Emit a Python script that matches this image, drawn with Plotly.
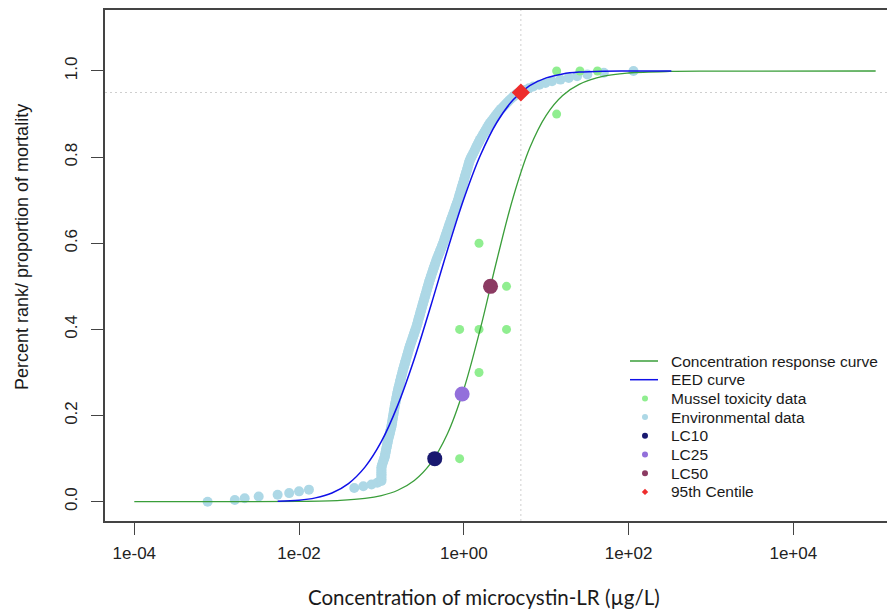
import plotly.graph_objects as go
import pandas as pd

# ---------------- data ----------------
# Environmental microcystin-LR concentrations (log10 ug/L), sorted
env_log10 = [
    -3.11, -2.78, -2.66, -2.49, -2.26, -2.12, -2.00, -1.88, -1.33, -1.22, -1.12, -1.05,
    -1.00, -1.00, -1.00, -1.00, -1.00, -1.00, -1.00, -1.00, -1.00,
    -0.995, -0.988, -0.981, -0.974, -0.967,
    -0.960, -0.956, -0.952, -0.948, -0.944, -0.940, -0.935, -0.931, -0.927, -0.923,
    -0.919, -0.913, -0.908, -0.902, -0.897, -0.892, -0.887, -0.882,
    -0.877, -0.874, -0.870, -0.867, -0.864, -0.860, -0.857, -0.853, -0.850, -0.847, -0.843, -0.840,
    -0.836, -0.832, -0.827, -0.823, -0.819, -0.815, -0.811, -0.806, -0.802,
    -0.798, -0.793, -0.787, -0.782, -0.777, -0.773, -0.767, -0.762, -0.757, -0.751, -0.746, -0.741,
    -0.735, -0.729, -0.723, -0.717, -0.711, -0.705, -0.699, -0.693, -0.687, -0.681, -0.675, -0.669, -0.663,
    -0.657, -0.650, -0.643, -0.636, -0.628, -0.621, -0.614, -0.607, -0.600, -0.593, -0.586, -0.579,
    -0.572, -0.566, -0.560, -0.555, -0.549, -0.543, -0.537, -0.531, -0.526, -0.520, -0.514, -0.508, -0.502, -0.496,
    -0.490, -0.484, -0.478, -0.472, -0.466, -0.460, -0.454, -0.448, -0.442, -0.436, -0.430, -0.424, -0.418,
    -0.411, -0.404, -0.397, -0.390, -0.383, -0.376, -0.369, -0.362, -0.355, -0.348, -0.341, -0.334,
    -0.326, -0.317, -0.309, -0.301, -0.292, -0.284, -0.276, -0.268, -0.259,
    -0.251, -0.244, -0.237, -0.230, -0.223, -0.216, -0.209, -0.202, -0.195, -0.188, -0.181, -0.174,
    -0.166, -0.159, -0.151, -0.144, -0.137, -0.129, -0.122, -0.114, -0.107, -0.100, -0.092, -0.085, -0.077, -0.070,
    -0.064, -0.058, -0.052, -0.045, -0.039, -0.033, -0.027, -0.021, -0.015, -0.008, -0.002, 0.004, 0.010,
    0.016, 0.022, 0.028, 0.035, 0.041, 0.047, 0.053, 0.059, 0.065, 0.071,
    0.081, 0.091, 0.102, 0.112, 0.123, 0.133, 0.143, 0.153, 0.164, 0.174, 0.185,
    0.195, 0.207, 0.220, 0.232, 0.245, 0.257, 0.269, 0.282, 0.294, 0.307,
    0.320, 0.336, 0.353, 0.369, 0.385, 0.401, 0.418, 0.434,
    0.453, 0.473, 0.493, 0.513, 0.534, 0.554,
    0.577, 0.601, 0.624, 0.648,
    0.686, 0.738, 0.791,
    0.843, 0.917, 0.991,
    1.071, 1.173,
    1.274, 1.375,
    1.50, 1.70, 2.06,
]

# Mussel toxicity data: concentration (ug/L) and proportion of mortality
mussel_conc = [0.89, 0.89, 1.53, 1.53, 1.53, 3.3, 3.3, 13.4, 13.4, 25.7, 41.9]
mussel_mort = [0.1, 0.4, 0.3, 0.4, 0.6, 0.4, 0.5, 0.9, 1.0, 1.0, 1.0]

# Concentration response curve (fitted)
crc_conc = [1e-4, 1e-3, 0.01, 0.0316, 0.0631, 0.1, 0.158, 0.251, 0.398, 0.631, 1.0,
            1.585, 2.512, 3.981, 6.31, 10.0, 15.85, 25.12, 50.1, 100.0, 316.0, 1000.0, 1e5]
crc_prop = [0.0, 0.00002, 0.0006, 0.0029, 0.0075, 0.0142, 0.0266, 0.0493, 0.0895, 0.157, 0.261,
            0.401, 0.560, 0.707, 0.821, 0.897, 0.943, 0.969, 0.988, 0.9953, 0.999, 0.9998, 1.0]

# EED curve (fitted)
eed_conc = [0.0055, 0.01, 0.0158, 0.0251, 0.0398, 0.0631, 0.1, 0.158, 0.251, 0.398, 0.631,
            1.0, 1.585, 2.512, 3.981, 6.31, 10.0, 15.85, 25.12, 50.1, 100.0, 331.0]
eed_prop = [0.001, 0.0035, 0.0089, 0.0203, 0.0422, 0.0803, 0.1399, 0.2242, 0.3318, 0.4550, 0.5832,
            0.7027, 0.8037, 0.8804, 0.9332, 0.9658, 0.9840, 0.9932, 0.9974, 0.9995, 0.9999, 1.0]

# Lethal concentrations
lc_names = ["LC10", "LC25", "LC50"]
lc_conc = [0.444, 0.955, 2.11]
lc_prop = [0.10, 0.25, 0.50]

# 95th centile of the environmental exposure distribution
c95_conc = 4.93
c95_prop = 0.95

x_tickvals = [1e-4, 1e-2, 1e0, 1e2, 1e4]
x_ticktext = ["1e-04", "1e-02", "1e+00", "1e+02", "1e+04"]
y_tickvals = [0.0, 0.2, 0.4, 0.6, 0.8, 1.0]
y_ticktext = ["0.0", "0.2", "0.4", "0.6", "0.8", "1.0"]

legend_labels = ["Concentration response curve", "EED curve", "Mussel toxicity data",
                 "Environmental data", "LC10", "LC25", "LC50", "95th Centile"]

# ---------------- styles ----------------
C_GREEN = "#3a9e3a"
C_BLUE = "#1010e8"
C_MUSSEL = "#90EE90"
C_ENV = "#ADD8E6"
C_LC = ["#191970", "#9370DB", "#8B3A62"]
C_RED = "#EE2C2C"
AXC = "#444444"
FONT = "Liberation Sans, Arial, sans-serif"

env_conc = [10 ** v for v in env_log10]
s = pd.Series(env_conc)
env_rank = ((s.rank(method="first") - 1) / (len(s) - 1)).tolist()

X_RANGE = [-4.3557, 5.2346]
Y_RANGE = [-0.0448, 1.1416]

fig = go.Figure()

# dotted reference lines at the 95th centile
fig.add_trace(go.Scatter(x=[c95_conc, c95_conc], y=Y_RANGE, mode="lines",
                         line=dict(color="#cfcfcf", width=1, dash="2px,3px"),
                         showlegend=False, hoverinfo="skip"))
fig.add_trace(go.Scatter(x=[10 ** X_RANGE[0], 10 ** X_RANGE[1]], y=[c95_prop, c95_prop], mode="lines",
                         line=dict(color="#cfcfcf", width=1, dash="2px,3px"),
                         showlegend=False, hoverinfo="skip"))

fig.add_trace(go.Scatter(x=env_conc, y=env_rank, mode="markers",
                         marker=dict(color=C_ENV, size=10, line=dict(width=0)),
                         name="Environmental data", showlegend=False))
fig.add_trace(go.Scatter(x=mussel_conc, y=mussel_mort, mode="markers",
                         marker=dict(color=C_MUSSEL, size=9, line=dict(width=0)),
                         name="Mussel toxicity data", showlegend=False))
fig.add_trace(go.Scatter(x=crc_conc, y=crc_prop, mode="lines",
                         line=dict(color=C_GREEN, width=1.3, shape="spline", smoothing=1.0),
                         name="Concentration response curve", showlegend=False))
fig.add_trace(go.Scatter(x=eed_conc, y=eed_prop, mode="lines",
                         line=dict(color=C_BLUE, width=1.5, shape="spline", smoothing=1.0),
                         name="EED curve", showlegend=False))
for nm, cx, cy, col in zip(lc_names, lc_conc, lc_prop, C_LC):
    fig.add_trace(go.Scatter(x=[cx], y=[cy], mode="markers",
                             marker=dict(color=col, size=15, line=dict(width=0)),
                             name=nm, showlegend=False))
fig.add_trace(go.Scatter(x=[c95_conc], y=[c95_prop], mode="markers",
                         marker=dict(color=C_RED, size=14, symbol="diamond", line=dict(width=0)),
                         name="95th Centile", showlegend=False))

# The page body has an 8px margin, so the figure is 8px smaller and all
# reference pixel positions below are given in figure coordinates (ref - 8).
W, H = 887, 602
ML, MR, MT, MB = 97, 0, 2, 89
PW, PH = W - ML - MR, H - MT - MB


def px(xp):
    return (xp - ML) / PW


def py(yp):
    return (H - MB - yp) / PH


annotations = []
shapes = []

# manual legend (matches the R legend spacing)
row0, step = 353.0, 18.7
sym_kinds = ["line", "line", "dot", "dot", "dot", "dot", "dot", "diamond"]
sym_cols = [C_GREEN, C_BLUE, C_MUSSEL, C_ENV] + C_LC + [C_RED]
for k, (lab, kind, col) in enumerate(zip(legend_labels, sym_kinds, sym_cols)):
    yy = row0 + k * step
    annotations.append(dict(x=px(661), y=py(yy), xref="paper", yref="paper", text=lab,
                            showarrow=False, xanchor="left", yanchor="middle",
                            font=dict(family=FONT, size=15.5, color="#1a1a1a")))
    if kind == "line":
        shapes.append(dict(type="line", xref="paper", yref="paper", x0=px(622), x1=px(650),
                           y0=py(yy), y1=py(yy), line=dict(color=col, width=1.5)))
    elif kind == "dot":
        shapes.append(dict(type="circle", xref="paper", yref="paper", xsizemode="pixel",
                           ysizemode="pixel", xanchor=px(637), yanchor=py(yy),
                           x0=-3, x1=3, y0=-3, y1=3, fillcolor=col, line=dict(width=0)))
    else:
        shapes.append(dict(type="path", xref="paper", yref="paper", xsizemode="pixel",
                           ysizemode="pixel", xanchor=px(637), yanchor=py(yy),
                           path="M0,3.2 L3.2,0 L0,-3.2 L-3.2,0 Z", fillcolor=col, line=dict(width=0)))

# axis titles
annotations.append(dict(x=px(14), y=py(239), xref="paper", yref="paper",
                        text="Percent rank/ proportion of mortality", textangle=-90,
                        showarrow=False, xanchor="center", yanchor="middle",
                        font=dict(family=FONT, size=18, color="#1a1a1a")))
annotations.append(dict(x=px(476), y=py(589), xref="paper", yref="paper",
                        text="Concentration of microcystin-LR (µg/L)",
                        showarrow=False, xanchor="center", yanchor="middle",
                        font=dict(family="Lato, Carlito, Open Sans, sans-serif", size=20.5,
                                  color="#1a1a1a")))

fig.update_layout(
    width=W, height=H,
    margin=dict(l=ML, r=MR, t=MT, b=MB, pad=0),
    paper_bgcolor="white", plot_bgcolor="white",
    showlegend=False,
    annotations=annotations, shapes=shapes,
    xaxis=dict(type="log", range=X_RANGE, tickvals=x_tickvals, ticktext=x_ticktext,
               ticks="outside", ticklen=12, tickwidth=1.3, tickcolor=AXC,
               showline=True, linecolor=AXC, linewidth=1.5, mirror=True,
               showgrid=False, zeroline=False, ticklabelstandoff=4,
               tickfont=dict(family=FONT, size=17, color="#222222")),
    yaxis=dict(range=Y_RANGE, tickvals=y_tickvals, ticktext=y_ticktext, tickangle=-90,
               ticks="outside", ticklen=12, tickwidth=1.3, tickcolor=AXC,
               showline=True, linecolor=AXC, linewidth=1.5, mirror=False,
               showgrid=False, zeroline=False, ticklabelstandoff=7,
               tickfont=dict(family=FONT, size=17, color="#222222")),
)

fig.write_html("out.html")
